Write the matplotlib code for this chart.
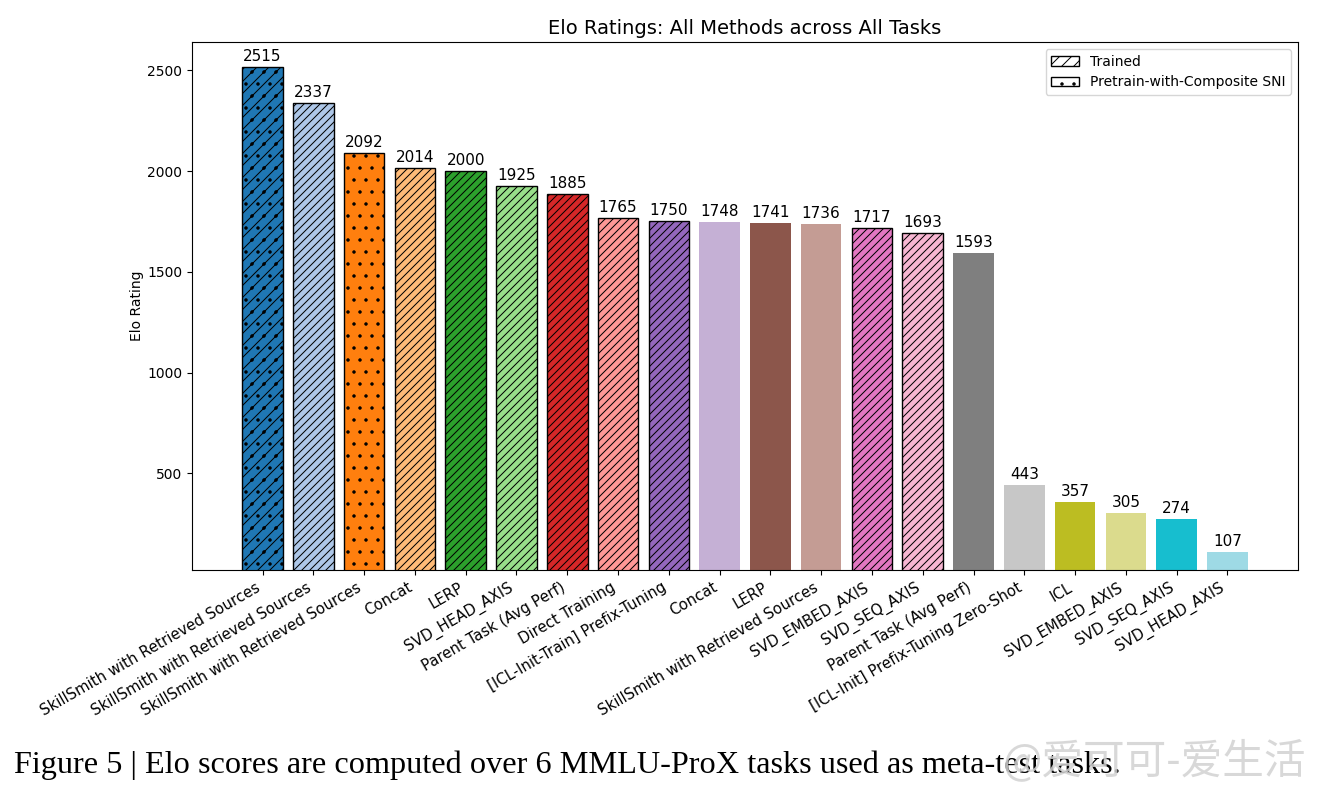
import matplotlib
matplotlib.use("Agg")
import matplotlib.pyplot as plt
from matplotlib.patches import Patch

methods = [
    "SkillSmith with Retrieved Sources",
    "SkillSmith with Retrieved Sources",
    "SkillSmith with Retrieved Sources",
    "Concat",
    "LERP",
    "SVD_HEAD_AXIS",
    "Parent Task (Avg Perf)",
    "Direct Training",
    "[ICL-Init-Train] Prefix-Tuning",
    "Concat",
    "LERP",
    "SkillSmith with Retrieved Sources",
    "SVD_EMBED_AXIS",
    "SVD_SEQ_AXIS",
    "Parent Task (Avg Perf)",
    "[ICL-Init] Prefix-Tuning Zero-Shot",
    "ICL",
    "SVD_EMBED_AXIS",
    "SVD_SEQ_AXIS",
    "SVD_HEAD_AXIS",
]
elo = [2515, 2337, 2092, 2014, 2000, 1925, 1885, 1765, 1750, 1748,
       1741, 1736, 1717, 1693, 1593, 443, 357, 305, 274, 107]
trained = [1, 1, 0, 1, 1, 1, 1, 1, 1, 0, 0, 0, 1, 1, 0, 0, 0, 0, 0, 0]
composite = [1, 0, 1, 0, 0, 0, 0, 0, 0, 0, 0, 0, 0, 0, 0, 0, 0, 0, 0, 0]

caption = "Figure 5 | Elo scores are computed over 6 MMLU-ProX tasks used as meta-test tasks."

# drawn at 72 dpi (denser hatching), so sizes are scaled up from 100 dpi values
DPI = 72
S = 100 / DPI
plt.rcParams.update({
    "font.size": 10 * S,
    "axes.linewidth": 0.8 * S,
    "patch.linewidth": 1.0 * S,
    "xtick.major.size": 3.5 * S, "ytick.major.size": 3.5 * S,
    "xtick.major.width": 0.8 * S, "ytick.major.width": 0.8 * S,
    "xtick.major.pad": 3.5 * S, "ytick.major.pad": 3.5 * S,
    "axes.titlepad": 6 * S, "axes.labelpad": 4 * S,
    "hatch.linewidth": 1.0,
})

fig = plt.figure(figsize=(1319 / DPI, 791 / DPI), dpi=DPI)
ax = fig.add_axes([192/1319, 1-570/791, (1298-192)/1319, (570-42)/791])

cmap = plt.get_cmap("tab20")
x = list(range(len(methods)))
for i, (m, v) in enumerate(zip(methods, elo)):
    if trained[i] and composite[i]:
        h = "//."
    elif trained[i]:
        h = "///"
    elif composite[i]:
        h = "."
    else:
        h = None
    ec = "black" if h else "none"
    ax.bar(i, v, width=0.8, color=cmap(i % 20), edgecolor=ec, linewidth=1 * S, hatch=h)
    ax.text(i, v + 15, str(v), ha="center", va="bottom", fontsize=11 * S)

ax.set_xticks(x)
ax.set_xticklabels(methods, rotation=30, ha="right", fontsize=10.7 * S)
ax.tick_params(axis="y", labelsize=10 * S)
ax.set_yticks([500, 1000, 1500, 2000, 2500])
ax.set_ylim(20, max(elo) * 1.05)
ax.set_ylabel("Elo Rating", fontsize=10 * S, labelpad=2 * S)
ax.set_title("Elo Ratings: All Methods across All Tasks", fontsize=14 * S)

handles = [Patch(facecolor="white", edgecolor="black", hatch="//", label="Trained"),
           Patch(facecolor="white", edgecolor="black", hatch=".", label="Pretrain-with-Composite SNI")]
ax.legend(handles=handles, loc="upper right", fontsize=10 * S)

# caption, scaled to the width it has in the figure
cap = fig.text(14/1319, 1-773/791, caption, family="Liberation Serif",
               fontsize=24 * S, ha="left", va="baseline")
fig.canvas.draw()
w = cap.get_window_extent().width
cap.set_fontsize(24 * S * 1106 / w)

fig.text(1003/1319, 1-761/791, "@爱可可-爱生活", color="#d2d2d2", fontsize=30 * S,
         family=["Noto Sans CJK SC", "DejaVu Sans"], ha="left", va="center", alpha=0.85)

fig.savefig("out.png", dpi=DPI)
